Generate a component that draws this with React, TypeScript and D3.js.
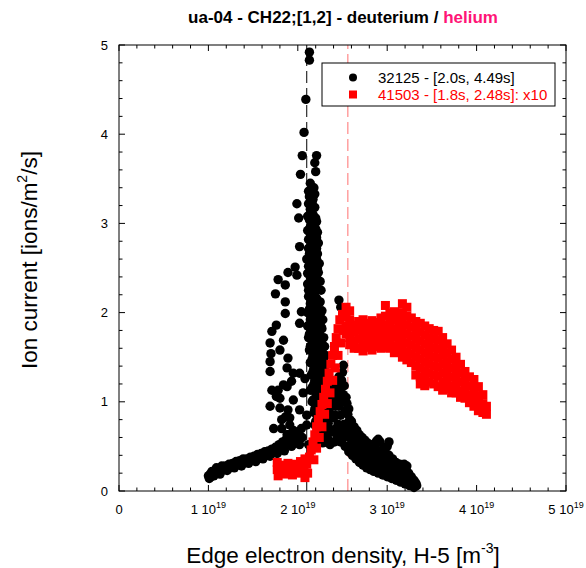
import * as d3 from "d3";

// shot 32125 (deuterium) - black circles, x in 1e19 m^-3
const blackLower: [number, number][] = [
  [1.0, 0.17], [1.01, 0.14], [1.02, 0.19], [1.03, 0.16], [1.04, 0.22], [1.05, 0.2], [1.06, 0.17],
  [1.07, 0.21], [1.08, 0.19], [1.09, 0.26], [1.1, 0.22], [1.11, 0.25], [1.12, 0.23], [1.13, 0.19],
  [1.14, 0.22], [1.15, 0.28], [1.16, 0.25], [1.18, 0.24], [1.19, 0.28], [1.2, 0.26], [1.21, 0.23],
  [1.22, 0.27], [1.23, 0.3], [1.24, 0.26], [1.26, 0.28], [1.27, 0.31], [1.28, 0.29], [1.29, 0.26],
  [1.3, 0.28], [1.31, 0.33], [1.32, 0.3], [1.34, 0.31], [1.35, 0.34], [1.36, 0.3], [1.37, 0.28],
  [1.38, 0.32], [1.39, 0.36], [1.4, 0.33], [1.42, 0.32], [1.43, 0.36], [1.44, 0.34], [1.45, 0.31],
  [1.46, 0.35], [1.47, 0.38], [1.48, 0.34], [1.5, 0.36], [1.51, 0.39], [1.52, 0.37], [1.53, 0.33],
  [1.54, 0.36], [1.55, 0.41], [1.56, 0.38], [1.58, 0.39], [1.59, 0.42], [1.6, 0.38], [1.61, 0.36],
  [1.62, 0.4], [1.63, 0.44], [1.64, 0.41], [1.66, 0.4], [1.67, 0.45], [1.68, 0.42], [1.69, 0.39],
  [1.7, 0.44], [1.71, 0.47], [1.72, 0.43], [1.74, 0.45], [1.75, 0.49], [1.76, 0.47], [1.77, 0.42],
  [1.78, 0.46], [1.79, 0.52], [1.8, 0.49], [1.82, 0.51], [1.83, 0.55], [1.84, 0.48], [1.85, 0.45],
  [1.86, 0.53], [1.87, 0.58], [1.88, 0.55], [1.89, 0.63], [1.9, 0.52], [1.91, 0.6], [1.92, 0.57],
  [1.93, 0.5], [1.94, 0.6], [1.95, 0.68], [1.96, 0.56], [1.97, 0.66], [1.98, 0.62], [2.0, 0.65],
  [2.0, 0.55], [2.02, 0.58], [2.04, 0.7], [2.05, 0.6],
];

const blackCloud: [number, number][] = [
  [2.13, 4.92], [2.13, 4.83], [2.09, 4.39], [2.07, 4.02], [2.05, 3.76], [2.21, 3.76], [2.03, 3.55],
  [2.19, 3.68], [2.2, 3.58], [1.99, 3.22], [2.01, 3.06], [2.02, 2.74], [1.97, 2.51], [1.89, 2.45],
  [1.99, 2.42], [1.78, 2.37], [1.86, 2.31], [1.75, 2.21], [1.86, 2.12], [1.86, 1.99], [2.04, 2.01],
  [1.76, 1.86], [2.02, 1.88], [1.71, 1.79], [1.84, 1.69], [1.69, 1.66], [1.8, 1.58], [1.7, 1.54],
  [1.89, 1.49], [1.69, 1.45], [1.88, 1.38], [1.69, 1.34], [1.95, 1.32], [2.02, 1.32], [2.08, 1.26],
  [1.93, 1.23], [1.84, 1.19], [1.71, 1.13], [1.78, 1.13], [1.88, 1.17], [2.14, 1.13], [1.76, 1.06],
  [1.8, 1.04], [2.16, 1.0], [1.69, 0.95], [1.8, 0.93], [1.89, 0.91], [2.02, 0.91], [2.1, 0.85],
  [1.86, 0.83], [1.91, 0.82], [1.82, 0.8], [1.73, 0.7], [1.82, 0.7], [1.91, 0.74], [2.1, 0.74],
  [1.88, 0.63], [1.93, 0.63], [1.97, 0.59], [2.02, 0.52], [2.12, 0.52], [2.06, 1.1], [1.95, 1.02],
];

const blackPeak: [number, number][] = [
  [2.14, 3.45], [2.15, 3.38], [2.13, 3.3], [2.16, 3.24], [2.14, 3.16], [2.17, 3.1], [2.13, 3.04],
  [2.16, 2.98], [2.18, 2.92], [2.14, 2.88], [2.12, 2.82], [2.17, 2.8], [2.15, 2.74], [2.19, 2.7],
  [2.13, 2.66], [2.16, 2.62], [2.18, 2.56], [2.12, 2.52], [2.15, 2.48], [2.19, 2.44], [2.14, 2.4],
  [2.17, 2.36], [2.11, 2.32], [2.2, 2.3], [2.15, 2.26], [2.18, 2.22], [2.12, 2.18], [2.21, 2.16],
  [2.16, 2.12], [2.19, 2.08], [2.13, 2.04], [2.22, 2.02], [2.17, 1.98], [2.2, 1.94], [2.14, 1.92],
  [2.23, 1.9], [2.18, 1.86], [2.11, 1.85], [2.21, 1.82], [2.15, 1.8], [2.24, 1.78], [2.19, 1.74],
  [2.12, 1.72], [2.22, 1.7], [2.16, 1.66], [2.25, 1.64], [2.2, 1.6], [2.13, 1.58], [2.23, 1.56],
  [2.17, 1.52], [2.26, 1.5], [2.21, 1.46], [2.14, 1.44], [2.24, 1.42], [2.18, 1.38], [2.27, 1.36],
  [2.22, 1.32], [2.15, 1.3], [2.25, 1.28], [2.19, 1.24], [2.28, 1.22], [2.23, 1.18], [2.16, 1.16],
  [2.26, 1.14], [2.2, 1.1], [2.29, 1.08], [2.24, 1.04], [2.17, 1.02], [2.27, 1.0], [2.21, 0.96],
  [2.3, 0.94], [2.25, 0.9], [2.18, 0.88], [2.28, 0.86], [2.22, 0.82], [2.31, 0.8], [2.26, 0.76],
  [2.19, 0.74], [2.29, 0.72], [2.23, 0.68], [2.32, 0.66], [2.27, 0.62], [2.2, 0.6],
  [2.21, 3.02], [2.22, 2.9], [2.23, 2.78], [2.22, 2.66], [2.24, 2.55], [2.23, 2.45], [2.25, 2.35],
  [2.26, 2.25], [2.25, 2.12], [2.27, 2.02], [2.28, 1.92], [2.27, 1.82], [2.29, 1.72], [2.3, 1.62],
  [2.31, 1.52], [2.32, 1.42], [2.33, 1.32], [2.34, 1.22], [2.35, 1.12], [2.36, 1.02], [2.35, 0.92],
  [2.33, 0.84],
];

const blackPeakFill: [number, number][] = [
  [2.18, 3.4], [2.12, 3.36], [2.19, 3.33], [2.17, 3.27], [2.12, 3.22], [2.19, 3.18], [2.15, 3.12],
  [2.2, 3.06], [2.11, 3.08], [2.18, 3.02], [2.14, 2.96], [2.2, 2.94], [2.11, 2.92], [2.16, 2.86],
  [2.21, 2.84], [2.18, 2.76], [2.12, 2.72], [2.21, 2.72], [2.16, 2.68], [2.1, 2.6], [2.21, 2.6],
  [2.14, 2.55], [2.22, 2.5], [2.18, 2.48], [2.11, 2.44], [2.21, 2.4], [2.16, 2.33], [2.23, 2.26],
  [2.12, 2.25], [2.19, 2.18], [2.24, 2.12], [2.14, 2.1], [2.21, 2.06], [2.11, 2.0], [2.18, 1.95],
  [2.25, 1.95], [2.15, 1.87], [2.22, 1.86], [2.26, 1.84], [2.18, 1.78], [2.13, 1.76], [2.23, 1.73],
  [2.27, 1.7], [2.17, 1.69], [2.21, 1.64], [2.14, 1.62], [2.27, 1.58], [2.19, 1.55], [2.24, 1.5],
  [2.16, 1.48], [2.29, 1.46], [2.21, 1.4], [2.26, 1.38], [2.17, 1.34], [2.3, 1.3], [2.23, 1.26],
  [2.18, 1.2], [2.28, 1.18], [2.31, 1.15], [2.22, 1.13], [2.26, 1.09], [2.32, 1.05], [2.2, 1.04],
  [2.25, 0.98], [2.33, 0.96], [2.19, 0.92], [2.28, 0.92], [2.32, 0.88], [2.24, 0.84], [2.2, 0.78],
  [2.29, 0.78], [2.34, 0.76], [2.24, 0.72], [2.3, 0.68], [2.35, 0.7], [2.25, 0.64], [2.31, 0.6],
  [2.22, 0.56], [2.28, 0.54], [2.34, 0.58], [2.37, 0.86], [2.38, 0.96], [2.39, 1.06], [2.37, 0.66],
  [2.36, 0.52],
];

const blackDecay: [number, number][] = [
  [2.46, 2.14], [2.48, 2.06], [2.51, 1.41], [2.4, 1.15], [2.43, 1.22], [2.46, 1.28], [2.5, 1.33],
  [2.52, 1.18], [2.44, 1.05], [2.48, 1.1], [2.4, 0.98], [2.46, 0.95], [2.5, 1.0], [2.54, 1.05],
  [2.42, 0.85], [2.48, 0.85], [2.53, 0.9], [2.57, 0.92], [2.45, 0.75], [2.52, 0.75], [2.58, 0.8],
  [2.4, 0.82], [2.43, 0.7], [2.47, 0.66], [2.52, 0.68], [2.56, 0.72],
  [2.6, 0.78], [2.63, 0.72], [2.66, 0.68], [2.69, 0.63], [2.72, 0.6], [2.75, 0.57], [2.78, 0.54],
  [2.82, 0.52], [2.86, 0.5], [2.9, 0.58], [2.92, 0.55], [2.95, 0.47], [2.98, 0.43], [3.02, 0.4],
  [3.06, 0.36], [3.1, 0.32], [3.14, 0.3], [3.18, 0.27], [3.21, 0.25], [3.24, 0.2], [3.27, 0.16],
  [3.3, 0.12], [3.32, 0.09],
  [2.55, 0.65], [2.58, 0.6], [2.62, 0.55], [2.66, 0.5], [2.7, 0.46], [2.74, 0.42], [2.78, 0.4],
  [2.82, 0.37], [2.86, 0.35], [2.9, 0.32], [2.94, 0.3], [2.98, 0.28], [3.02, 0.26], [3.06, 0.24],
  [3.1, 0.22], [3.14, 0.2], [3.18, 0.18], [3.22, 0.15], [3.26, 0.12], [3.3, 0.08], [3.33, 0.06],
  [2.5, 0.58], [2.53, 0.5], [2.57, 0.44], [2.61, 0.4], [2.65, 0.36], [2.69, 0.32], [2.73, 0.29],
  [2.77, 0.26], [2.81, 0.24], [2.85, 0.22], [2.9, 0.2], [2.95, 0.18], [3.0, 0.16], [3.05, 0.14],
  [3.1, 0.12], [3.15, 0.1], [3.2, 0.08], [3.25, 0.06], [3.3, 0.04],
];

const blackDecayFill: [number, number][] = [
  [2.42, 1.12], [2.45, 1.18], [2.49, 1.24], [2.47, 1.02], [2.51, 1.08], [2.55, 0.98], [2.56, 0.86],
  [2.6, 0.7], [2.59, 0.52], [2.63, 0.64], [2.64, 0.46], [2.67, 0.59], [2.68, 0.42], [2.71, 0.53],
  [2.72, 0.38], [2.75, 0.49], [2.76, 0.35], [2.79, 0.46], [2.8, 0.32], [2.83, 0.44], [2.84, 0.3],
  [2.87, 0.42], [2.88, 0.28], [2.91, 0.44], [2.92, 0.26], [2.93, 0.38], [2.96, 0.34], [2.97, 0.24],
  [3.0, 0.36], [3.01, 0.22], [3.04, 0.31], [3.05, 0.2], [3.08, 0.28], [3.09, 0.18], [3.12, 0.26],
  [3.13, 0.16], [3.16, 0.23], [3.17, 0.14], [3.2, 0.21], [3.21, 0.12], [3.24, 0.16], [3.25, 0.1],
  [3.28, 0.1], [3.29, 0.06], [3.0, 0.5], [3.02, 0.55], [2.88, 0.56], [3.19, 0.3], [3.22, 0.28],
  [2.44, 0.62], [2.48, 0.55], [2.42, 0.95], [2.38, 1.18], [2.41, 0.55],
];

// shot 41503 (helium, x10) - red squares
const redLow: [number, number][] = [
  [1.77, 0.32], [1.77, 0.24], [1.78, 0.17], [1.81, 0.29], [1.82, 0.21], [1.84, 0.27], [1.86, 0.19],
  [1.88, 0.26], [1.89, 0.31], [1.91, 0.22], [1.93, 0.27], [1.94, 0.18], [1.96, 0.24], [1.98, 0.3],
  [1.99, 0.2], [2.01, 0.26], [2.03, 0.33], [2.05, 0.29], [2.07, 0.22], [2.08, 0.15], [2.08, 0.36],
  [2.1, 0.3], [2.11, 0.2],
];

const redRise: [number, number][] = [
  [2.13, 0.38], [2.15, 0.46], [2.17, 0.55], [2.19, 0.63], [2.21, 0.72], [2.23, 0.8], [2.25, 0.89],
  [2.27, 0.97], [2.29, 1.05], [2.31, 1.14], [2.33, 1.23], [2.35, 1.32], [2.37, 1.42], [2.39, 1.52],
  [2.41, 1.62], [2.43, 1.72], [2.45, 1.82], [2.47, 1.92], [2.5, 1.98],
  [2.18, 0.35], [2.21, 0.48], [2.24, 0.6], [2.27, 0.72], [2.3, 0.86], [2.33, 0.98], [2.36, 1.1],
  [2.39, 1.24], [2.42, 1.38], [2.45, 1.52], [2.48, 1.66], [2.51, 1.8],
];

const redHump: [number, number[]][] = [
  [2.54, [2.06, 1.95, 1.85, 1.76]],
  [2.58, [2.02, 1.92, 1.82, 1.72, 1.64]],
  [2.63, [1.86, 1.78, 1.68, 1.6]],
  [2.68, [1.9, 1.8, 1.7, 1.6]],
  [2.73, [1.92, 1.83, 1.74, 1.64, 1.57]],
  [2.78, [1.88, 1.79, 1.7, 1.61]],
  [2.83, [1.91, 1.82, 1.72, 1.63, 1.58]],
  [2.88, [1.89, 1.8, 1.71, 1.62]],
  [2.93, [1.94, 1.84, 1.75, 1.66, 1.6]],
  [2.98, [2.08, 1.96, 1.86, 1.77, 1.68, 1.61]],
  [3.03, [1.99, 1.89, 1.8, 1.7, 1.6]],
  [3.08, [2.01, 1.92, 1.82, 1.73, 1.63, 1.55]],
  [3.13, [1.97, 1.88, 1.78, 1.68, 1.58]],
  [3.17, [2.1, 2.0, 1.9, 1.8, 1.7, 1.6, 1.5]],
  [3.22, [2.06, 1.96, 1.86, 1.76, 1.66, 1.56, 1.47]],
  [3.27, [1.94, 1.84, 1.74, 1.64, 1.54, 1.44]],
  [3.32, [1.9, 1.8, 1.7, 1.6, 1.5, 1.4, 1.3]],
  [3.37, [1.88, 1.78, 1.68, 1.58, 1.48, 1.38, 1.28, 1.2]],
  [3.42, [1.85, 1.75, 1.65, 1.55, 1.45, 1.35, 1.25, 1.18]],
  [3.47, [1.82, 1.72, 1.62, 1.52, 1.42, 1.32, 1.22]],
  [3.52, [1.8, 1.7, 1.6, 1.5, 1.4, 1.3, 1.2]],
  [3.57, [1.79, 1.69, 1.59, 1.49, 1.39, 1.29, 1.17]],
  [3.62, [1.72, 1.62, 1.52, 1.42, 1.32, 1.22, 1.13]],
  [3.67, [1.65, 1.55, 1.45, 1.35, 1.25, 1.15]],
  [3.72, [1.58, 1.48, 1.38, 1.28, 1.18, 1.1]],
  [3.77, [1.5, 1.4, 1.3, 1.2, 1.1]],
  [3.82, [1.42, 1.32, 1.22, 1.12, 1.05]],
  [3.87, [1.34, 1.24, 1.14, 1.04]],
  [3.92, [1.28, 1.18, 1.08, 0.99]],
  [3.97, [1.25, 1.15, 1.05, 0.95]],
  [4.02, [1.17, 1.07, 0.97, 0.9]],
  [4.07, [1.08, 0.98, 0.88]],
  [4.11, [0.95, 0.86]],
];

const xTicks = [0, 1, 2, 3, 4, 5];
const yTicks = [0, 1, 2, 3, 4, 5];
const markerLines = [
  { x: 2.1, color: "#000" },
  { x: 2.56, color: "#ff6f6f" },
];

const W = 586;
const H = 568;
const FONT = "'Liberation Sans', Arial, Helvetica, sans-serif";

export default function App() {
  const x = d3.scaleLinear().domain([0, 5]).range([119, 566]);
  const y = d3.scaleLinear().domain([0, 5]).range([491, 45]);
  const [x0, x1] = x.range();
  const [y0, y1] = y.range();

  const black = [...blackLower, ...blackCloud, ...blackPeak, ...blackPeakFill, ...blackDecay, ...blackDecayFill];
  const red: [number, number][] = [
    ...redLow,
    ...redRise,
    ...redHump.flatMap(([cx, ys]) => ys.map((v) => [cx, v] as [number, number])),
  ];

  const minor = d3.range(0, 5.001, 0.2);
  const sq = 9;

  return (
    <svg width={W} height={H} style={{ position: "absolute", left: 0, top: 0, background: "#fff" }} fontFamily={FONT}>
      <text x={343} y={23} textAnchor="middle" fontSize={17} fontWeight="bold">
        ua-04 - CH22;[1,2] - deuterium / <tspan fill="#ff1477">helium</tspan>
      </text>

      {/* reference lines */}
      {markerLines.map((m, i) => (
        <line key={i} x1={x(m.x)} x2={x(m.x)} y1={y0} y2={y1} stroke={m.color} strokeWidth={1}
          strokeDasharray="12,5" />
      ))}

      {black.map(([a, b], i) => (
        <circle key={"b" + i} cx={x(a)} cy={y(b)} r={4.7} fill="#000" />
      ))}
      {red.map(([a, b], i) => (
        <rect key={"r" + i} x={x(a) - sq / 2} y={y(b) - sq / 2} width={sq} height={sq} fill="#ff0000" />
      ))}

      {/* frame + ticks */}
      <rect x={x0} y={y1} width={x1 - x0} height={y0 - y1} fill="none" stroke="#000" strokeWidth={1} />
      {minor.map((t, i) => {
        const major = Math.abs(t - Math.round(t)) < 1e-6;
        const len = major ? 6 : 3.5;
        return (
          <g key={"t" + i} stroke="#000" strokeWidth={1}>
            <line x1={x(t)} x2={x(t)} y1={y0} y2={y0 - len} />
            <line x1={x(t)} x2={x(t)} y1={y1} y2={y1 + len} />
            <line x1={x0} x2={x0 + len} y1={y(t)} y2={y(t)} />
            <line x1={x1} x2={x1 - len} y1={y(t)} y2={y(t)} />
          </g>
        );
      })}

      {xTicks.map((t) => (
        <text key={"xl" + t} x={x(t)} y={514} textAnchor="middle" fontSize={13}>
          {t === 0 ? "0" : (
            <>
              {t} 10<tspan dy={-6} fontSize={9}>19</tspan>
            </>
          )}
        </text>
      ))}
      {yTicks.map((t) => (
        <text key={"yl" + t} x={108} y={y(t) + 4.5} textAnchor="end" fontSize={13}>
          {t}
        </text>
      ))}

      <text x={343} y={563} textAnchor="middle" fontSize={22.5}>
        Edge electron density, H-5 [m<tspan dy={-10} fontSize={14}>-3</tspan><tspan dy={10}>]</tspan>
      </text>
      <text transform="translate(37,260) rotate(-90)" textAnchor="middle" fontSize={22.5}>
        Ion current [ions/m<tspan dy={-10} fontSize={14}>2</tspan><tspan dy={10}>/s]</tspan>
      </text>

      {/* legend */}
      <rect x={322} y={63} width={233} height={43} fill="#fff" stroke="#000" strokeWidth={1} />
      <circle cx={353} cy={77.5} r={4} fill="#000" />
      <text x={378} y={83} fontSize={15}>32125 - [2.0s, 4.49s]</text>
      <rect x={349} y={90.5} width={8} height={8} fill="#ff0000" />
      <text x={378} y={100} fontSize={15} fill="#ff0000">41503 - [1.8s, 2.48s]: x10</text>
    </svg>
  );
}
